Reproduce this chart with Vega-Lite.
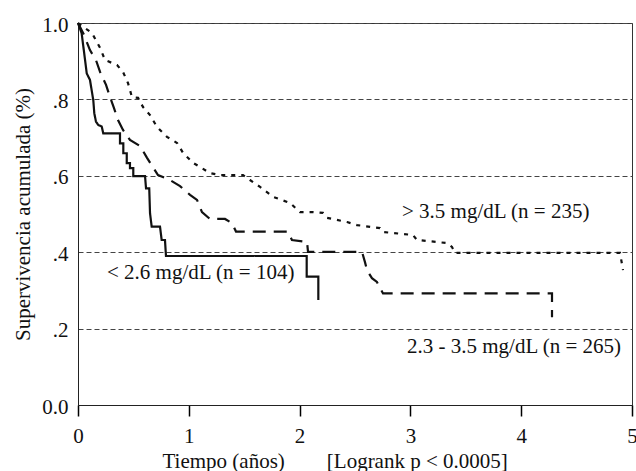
{
  "$schema": "https://vega.github.io/schema/vega-lite/v6.json",
  "width": 554,
  "height": 382,
  "padding": {"left": 78, "top": 23, "right": 4, "bottom": 66},
  "autosize": {"type": "none"},
  "background": "white",
  "config": {
    "font": "Liberation Serif",
    "view": {"stroke": "#333", "strokeWidth": 1},
    "axis": {"labelFont": "Liberation Serif", "titleFont": "Liberation Serif", "labelColor": "#111", "titleColor": "#111", "titleFontWeight": "normal", "domainColor": "#222"},
    "axisX": {"ticks": true, "tickSize": 11, "tickWidth": 1.5, "tickColor": "#000", "tickOpacity": 1}
  },
  "layer": [
    {
      "data": {"values": [
        {"g": "a", "o": 0, "x": 0, "y": 1},
        {"g": "a", "o": 1, "x": 0.033, "y": 0.973},
        {"g": "a", "o": 2, "x": 0.079, "y": 0.868},
        {"g": "a", "o": 3, "x": 0.108, "y": 0.851},
        {"g": "a", "o": 4, "x": 0.138, "y": 0.798},
        {"g": "a", "o": 5, "x": 0.147, "y": 0.764},
        {"g": "a", "o": 6, "x": 0.162, "y": 0.742},
        {"g": "a", "o": 7, "x": 0.183, "y": 0.733},
        {"g": "a", "o": 8, "x": 0.214, "y": 0.729},
        {"g": "a", "o": 9, "x": 0.228, "y": 0.711},
        {"g": "a", "o": 10, "x": 0.379, "y": 0.711},
        {"g": "a", "o": 11, "x": 0.379, "y": 0.685},
        {"g": "a", "o": 12, "x": 0.409, "y": 0.685},
        {"g": "a", "o": 13, "x": 0.409, "y": 0.659},
        {"g": "a", "o": 14, "x": 0.44, "y": 0.659},
        {"g": "a", "o": 15, "x": 0.44, "y": 0.633},
        {"g": "a", "o": 16, "x": 0.469, "y": 0.633},
        {"g": "a", "o": 17, "x": 0.469, "y": 0.62},
        {"g": "a", "o": 18, "x": 0.499, "y": 0.62},
        {"g": "a", "o": 19, "x": 0.499, "y": 0.599},
        {"g": "a", "o": 20, "x": 0.605, "y": 0.599},
        {"g": "a", "o": 21, "x": 0.614, "y": 0.567},
        {"g": "a", "o": 22, "x": 0.643, "y": 0.567},
        {"g": "a", "o": 23, "x": 0.65, "y": 0.502},
        {"g": "a", "o": 24, "x": 0.665, "y": 0.467},
        {"g": "a", "o": 25, "x": 0.74, "y": 0.467},
        {"g": "a", "o": 26, "x": 0.755, "y": 0.432},
        {"g": "a", "o": 27, "x": 0.785, "y": 0.432},
        {"g": "a", "o": 28, "x": 0.794, "y": 0.39},
        {"g": "a", "o": 29, "x": 2.064, "y": 0.39},
        {"g": "a", "o": 30, "x": 2.064, "y": 0.336},
        {"g": "a", "o": 31, "x": 2.169, "y": 0.336},
        {"g": "a", "o": 32, "x": 2.169, "y": 0.275},

        {"g": "b", "o": 0, "x": 0, "y": 1},
        {"g": "b", "o": 1, "x": 0.054, "y": 0.969},
        {"g": "b", "o": 2, "x": 0.108, "y": 0.929},
        {"g": "b", "o": 3, "x": 0.162, "y": 0.903},
        {"g": "b", "o": 4, "x": 0.199, "y": 0.872},
        {"g": "b", "o": 5, "x": 0.253, "y": 0.838},
        {"g": "b", "o": 6, "x": 0.289, "y": 0.806},
        {"g": "b", "o": 7, "x": 0.325, "y": 0.777},
        {"g": "b", "o": 8, "x": 0.361, "y": 0.746},
        {"g": "b", "o": 9, "x": 0.406, "y": 0.72},
        {"g": "b", "o": 10, "x": 0.469, "y": 0.694},
        {"g": "b", "o": 11, "x": 0.56, "y": 0.678},
        {"g": "b", "o": 12, "x": 0.623, "y": 0.647},
        {"g": "b", "o": 13, "x": 0.668, "y": 0.626},
        {"g": "b", "o": 14, "x": 0.722, "y": 0.602},
        {"g": "b", "o": 15, "x": 0.83, "y": 0.589},
        {"g": "b", "o": 16, "x": 0.921, "y": 0.573},
        {"g": "b", "o": 17, "x": 1.011, "y": 0.55},
        {"g": "b", "o": 18, "x": 1.074, "y": 0.537},
        {"g": "b", "o": 19, "x": 1.119, "y": 0.505},
        {"g": "b", "o": 20, "x": 1.191, "y": 0.487},
        {"g": "b", "o": 21, "x": 1.327, "y": 0.487},
        {"g": "b", "o": 22, "x": 1.39, "y": 0.476},
        {"g": "b", "o": 23, "x": 1.426, "y": 0.454},
        {"g": "b", "o": 24, "x": 1.895, "y": 0.454},
        {"g": "b", "o": 25, "x": 1.931, "y": 0.432},
        {"g": "b", "o": 26, "x": 2.067, "y": 0.427},
        {"g": "b", "o": 27, "x": 2.076, "y": 0.401},
        {"g": "b", "o": 28, "x": 2.563, "y": 0.401},
        {"g": "b", "o": 29, "x": 2.59, "y": 0.374},
        {"g": "b", "o": 30, "x": 2.608, "y": 0.353},
        {"g": "b", "o": 31, "x": 2.653, "y": 0.332},
        {"g": "b", "o": 32, "x": 2.698, "y": 0.322},
        {"g": "b", "o": 33, "x": 2.753, "y": 0.292},
        {"g": "b", "o": 34, "x": 4.278, "y": 0.292},
        {"g": "b", "o": 35, "x": 4.278, "y": 0.23},

        {"g": "c", "o": 0, "x": 0, "y": 1},
        {"g": "c", "o": 1, "x": 0.045, "y": 0.99},
        {"g": "c", "o": 2, "x": 0.126, "y": 0.974},
        {"g": "c", "o": 3, "x": 0.199, "y": 0.935},
        {"g": "c", "o": 4, "x": 0.244, "y": 0.903},
        {"g": "c", "o": 5, "x": 0.352, "y": 0.89},
        {"g": "c", "o": 6, "x": 0.406, "y": 0.872},
        {"g": "c", "o": 7, "x": 0.451, "y": 0.843},
        {"g": "c", "o": 8, "x": 0.487, "y": 0.806},
        {"g": "c", "o": 9, "x": 0.542, "y": 0.804},
        {"g": "c", "o": 10, "x": 0.587, "y": 0.78},
        {"g": "c", "o": 11, "x": 0.65, "y": 0.759},
        {"g": "c", "o": 12, "x": 0.713, "y": 0.728},
        {"g": "c", "o": 13, "x": 0.803, "y": 0.702},
        {"g": "c", "o": 14, "x": 0.894, "y": 0.686},
        {"g": "c", "o": 15, "x": 0.948, "y": 0.66},
        {"g": "c", "o": 16, "x": 1.038, "y": 0.634},
        {"g": "c", "o": 17, "x": 1.101, "y": 0.623},
        {"g": "c", "o": 18, "x": 1.191, "y": 0.607},
        {"g": "c", "o": 19, "x": 1.282, "y": 0.602},
        {"g": "c", "o": 20, "x": 1.489, "y": 0.602},
        {"g": "c", "o": 21, "x": 1.552, "y": 0.589},
        {"g": "c", "o": 22, "x": 1.643, "y": 0.571},
        {"g": "c", "o": 23, "x": 1.76, "y": 0.545},
        {"g": "c", "o": 24, "x": 1.913, "y": 0.529},
        {"g": "c", "o": 25, "x": 2.004, "y": 0.505},
        {"g": "c", "o": 26, "x": 2.121, "y": 0.505},
        {"g": "c", "o": 27, "x": 2.211, "y": 0.503},
        {"g": "c", "o": 28, "x": 2.247, "y": 0.49},
        {"g": "c", "o": 29, "x": 2.428, "y": 0.479},
        {"g": "c", "o": 30, "x": 2.518, "y": 0.471},
        {"g": "c", "o": 31, "x": 2.726, "y": 0.463},
        {"g": "c", "o": 32, "x": 2.753, "y": 0.453},
        {"g": "c", "o": 33, "x": 3.023, "y": 0.445},
        {"g": "c", "o": 34, "x": 3.06, "y": 0.432},
        {"g": "c", "o": 35, "x": 3.33, "y": 0.424},
        {"g": "c", "o": 36, "x": 3.375, "y": 0.414},
        {"g": "c", "o": 37, "x": 3.403, "y": 0.398},
        {"g": "c", "o": 38, "x": 4.892, "y": 0.398},
        {"g": "c", "o": 39, "x": 4.919, "y": 0.353}
      ]},
      "mark": {"type": "line", "color": "#111", "strokeWidth": 2.2, "strokeCap": "butt", "strokeJoin": "miter"},
      "encoding": {
        "x": {
          "field": "x", "type": "quantitative",
          "scale": {"domain": [0, 5], "nice": false, "zero": false},
          "axis": {
            "values": [0, 1, 2, 3, 4, 5], "format": "d", "grid": false,
            "ticks": true, "tickSize": 11, "tickWidth": 1.5, "tickColor": "#000", "labelPadding": 9, "labelFontSize": 21, "labelFlush": false,
            "title": "Tiempo (años)\u00a0\u00a0\u00a0\u00a0\u00a0\u00a0\u00a0\u00a0[Logrank p < 0.0005]",
            "titleFontSize": 21, "titleAnchor": "start", "titleAlign": "left", "titleBaseline": "alphabetic",
            "titleX": 84, "titleY": 62
          }
        },
        "y": {
          "field": "y", "type": "quantitative",
          "scale": {"domain": [0, 1], "nice": false},
          "axis": {
            "values": [0, 0.2, 0.4, 0.6, 0.8, 1],
            "labelExpr": "datum.value == 0 ? '0.0' : datum.value == 1 ? '1.0' : slice(format(datum.value, '.1f'), 1)",
            "ticks": false, "tickSize": 0, "labelPadding": 10, "labelFontSize": 21, "labelOffset": 2, "labelFlush": false,
            "grid": true, "gridDash": [5, 3], "gridColor": "#444", "gridWidth": 1,
            "title": "Supervivencia acumulada (%)", "titleFontSize": 21, "titleBaseline": "alphabetic", "titleX": -49
          }
        },
        "detail": {"field": "g"},
        "order": {"field": "o", "type": "quantitative"},
        "strokeDash": {
          "field": "g", "type": "nominal",
          "scale": {"domain": ["a", "b", "c"], "range": [[1, 0], [13, 8], [4, 6]]},
          "legend": null
        }
      }
    },
    {
      "data": {"values": [
        {"t": "> 3.5 mg/dL (n = 235)", "x": 2.924, "y": 0.505},
        {"t": "< 2.6 mg/dL (n = 104)", "x": 0.262, "y": 0.346},
        {"t": "2.3 - 3.5 mg/dL (n = 265)", "x": 2.969, "y": 0.152}
      ]},
      "mark": {"type": "text", "align": "left", "baseline": "middle", "fontSize": 21, "font": "Liberation Serif", "color": "#111"},
      "encoding": {
        "x": {"field": "x", "type": "quantitative"},
        "y": {"field": "y", "type": "quantitative"},
        "text": {"field": "t"}
      }
    }
  ]
}
